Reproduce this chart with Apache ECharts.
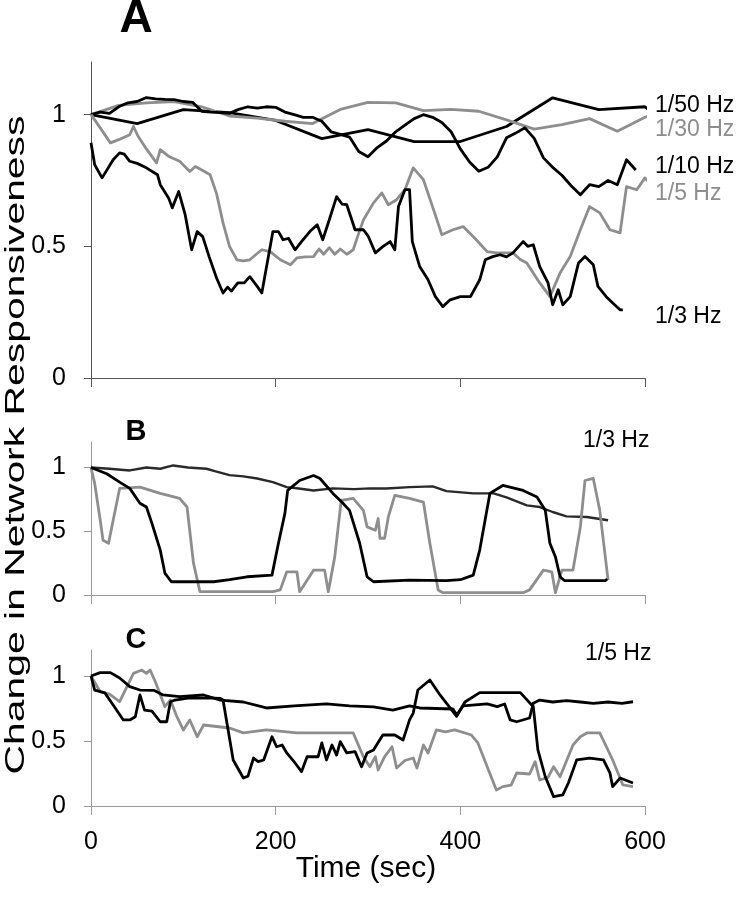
<!DOCTYPE html>
<html>
<head>
<meta charset="utf-8">
<script src="https://cdn.jsdelivr.net/npm/echarts@6/dist/echarts.min.js"></script>
<style>
html,body{margin:0;padding:0;background:#fff;}
#chart{width:737px;height:899px;}
</style>
</head>
<body>
<div id="chart"></div>
<script>
// ---------- data ----------
const X_TICKS = [0, 200, 400, 600];
const Y_TICKS = [0, 0.5, 1];

// Panel A
const A_50 = [[0,1.0],[50,0.966],[100,1.019],[150,1.008],[200,0.978],[250,0.909],[300,0.943],[350,0.898],[400,0.898],[450,0.955],[500,1.064],[550,1.019],[600,1.03],[606,1.013]];
const A_30 = [[0,1.0],[30,1.035],[60,1.045],[90,1.05],[120,1.03],[150,0.995],[180,0.987],[210,0.975],[240,0.966],[270,1.02],[300,1.047],[330,1.045],[360,1.015],[390,1.02],[420,1.013],[450,0.98],[480,0.945],[510,0.962],[540,0.985],[570,0.937],[600,0.99],[607,1.0]];
const A_10 = [[0,1.0],[10,1.01],[20,1.005],[30,1.03],[40,1.045],[50,1.05],[60,1.065],[70,1.06],[80,1.058],[90,1.057],[100,1.05],[110,1.047],[120,1.013],[130,1.01],[140,1.008],[150,1.005],[160,1.02],[170,1.03],[180,1.025],[190,1.03],[200,1.028],[210,1.01],[220,1.0],[230,0.99],[240,0.99],[250,0.975],[260,0.935],[270,0.925],[280,0.915],[290,0.86],[300,0.84],[310,0.875],[320,0.9],[330,0.935],[340,0.96],[350,0.985],[360,1.0],[370,0.99],[380,0.97],[390,0.935],[400,0.87],[410,0.82],[420,0.785],[430,0.8],[440,0.84],[450,0.912],[460,0.93],[470,0.95],[480,0.91],[490,0.836],[500,0.8],[510,0.77],[520,0.73],[530,0.696],[540,0.734],[550,0.727],[560,0.75],[570,0.734],[580,0.829],[590,0.79]];
const A_5 = [[0,1.0],[10,0.95],[21,0.893],[30,0.905],[42,0.924],[46,0.955],[51,0.918],[60,0.87],[71,0.817],[75,0.867],[85,0.84],[96,0.823],[107,0.784],[113,0.803],[120,0.79],[129,0.772],[136,0.7],[143,0.589],[150,0.5],[158,0.449],[165,0.445],[172,0.449],[179,0.47],[185,0.487],[194,0.48],[205,0.449],[216,0.43],[223,0.456],[232,0.46],[241,0.461],[247,0.49],[252,0.47],[258,0.495],[264,0.47],[270,0.49],[277,0.47],[284,0.487],[290,0.55],[295,0.6],[306,0.665],[315,0.703],[322,0.658],[331,0.677],[340,0.715],[349,0.798],[360,0.753],[370,0.65],[380,0.544],[392,0.563],[403,0.575],[416,0.53],[429,0.48],[439,0.475],[457,0.475],[465,0.45],[472,0.437],[486,0.361],[497,0.309],[508,0.399],[519,0.461],[530,0.563],[540,0.651],[551,0.627],[562,0.563],[573,0.551],[580,0.727],[591,0.715],[600,0.76],[609,0.727]];
const A_3 = [[0,0.893],[4,0.81],[12,0.76],[24,0.829],[31,0.855],[36,0.85],[42,0.823],[50,0.815],[60,0.798],[72,0.772],[75,0.734],[84,0.684],[88,0.646],[95,0.708],[102,0.62],[109,0.487],[115,0.556],[121,0.537],[128,0.46],[136,0.38],[143,0.323],[148,0.345],[152,0.33],[159,0.361],[166,0.361],[172,0.385],[180,0.348],[185,0.323],[191,0.44],[197,0.556],[203,0.556],[208,0.525],[214,0.53],[221,0.487],[228,0.518],[237,0.556],[245,0.582],[251,0.525],[258,0.6],[266,0.689],[272,0.66],[277,0.658],[286,0.563],[295,0.563],[300,0.54],[308,0.475],[316,0.499],[324,0.518],[329,0.487],[333,0.651],[340,0.715],[345,0.715],[348,0.518],[356,0.423],[365,0.373],[373,0.309],[381,0.271],[389,0.297],[400,0.309],[411,0.309],[421,0.373],[427,0.449],[435,0.461],[443,0.468],[450,0.46],[457,0.475],[468,0.518],[473,0.5],[479,0.506],[486,0.423],[495,0.361],[500,0.278],[506,0.335],[511,0.278],[519,0.309],[528,0.437],[535,0.461],[544,0.43],[549,0.348],[558,0.309],[565,0.285],[573,0.259],[576,0.259]];

// Panel B (1/3 Hz)
const B_DARK = [[0,1.0],[20,0.99],[42,0.977],[60,1.0],[75,0.99],[89,1.016],[105,1.0],[125,0.99],[135,0.97],[150,0.94],[165,0.93],[180,0.914],[197,0.885],[212,0.846],[225,0.835],[241,0.82],[262,0.836],[285,0.83],[302,0.836],[320,0.835],[345,0.846],[370,0.852],[385,0.815],[414,0.797],[436,0.797],[450,0.766],[472,0.703],[486,0.69],[500,0.651],[515,0.617],[537,0.612],[560,0.586]];
const B_BLACK = [[0,1.0],[17,0.951],[31,0.885],[42,0.836],[53,0.719],[60,0.69],[66,0.562],[75,0.352],[80,0.172],[87,0.104],[133,0.104],[150,0.12],[169,0.143],[196,0.156],[203,0.406],[210,0.64],[213,0.82],[226,0.898],[241,0.937],[248,0.914],[262,0.797],[273,0.719],[280,0.664],[291,0.406],[299,0.143],[306,0.104],[345,0.117],[385,0.112],[400,0.12],[414,0.156],[421,0.352],[432,0.797],[446,0.859],[468,0.82],[483,0.768],[492,0.664],[497,0.406],[503,0.299],[508,0.143],[513,0.112],[557,0.112],[559,0.125]];
const B_GRAY = [[0,1.0],[4,0.875],[10,0.586],[13,0.43],[19,0.406],[24,0.586],[31,0.836],[53,0.846],[75,0.797],[96,0.758],[104,0.69],[111,0.25],[118,0.026],[197,0.026],[205,0.04],[212,0.182],[223,0.182],[226,0.026],[241,0.195],[253,0.195],[257,0.026],[264,0.299],[271,0.742],[284,0.758],[295,0.664],[299,0.534],[308,0.508],[311,0.6],[313,0.445],[318,0.445],[322,0.612],[329,0.781],[345,0.758],[360,0.729],[367,0.406],[376,0.039],[381,0.018],[468,0.018],[475,0.04],[490,0.195],[499,0.182],[503,0.018],[510,0.195],[522,0.195],[530,0.534],[535,0.898],[544,0.914],[551,0.664],[560,0.117]];

// Panel C (1/5 Hz)
const C_FLAT = [[0,1.0],[10,1.026],[21,1.026],[31,0.985],[42,0.918],[53,0.892],[68,0.89],[78,0.854],[96,0.841],[122,0.854],[140,0.815],[165,0.8],[190,0.754],[220,0.77],[255,0.785],[280,0.77],[306,0.762],[327,0.738],[345,0.77],[356,0.754],[392,0.746],[396,0.7],[403,0.77],[429,0.785],[440,0.764],[448,0.785],[454,0.662],[461,0.648],[475,0.677],[479,0.79],[486,0.815],[500,0.8],[515,0.81],[530,0.8],[544,0.79],[560,0.8],[575,0.79],[587,0.802]];
const C_JAG = [[0,1.0],[4,0.892],[15,0.87],[24,0.777],[35,0.662],[42,0.662],[48,0.687],[53,0.854],[58,0.738],[66,0.73],[75,0.648],[82,0.648],[86,0.802],[91,0.815],[105,0.83],[122,0.83],[133,0.83],[140,0.828],[143,0.815],[154,0.354],[165,0.215],[170,0.23],[176,0.369],[181,0.341],[187,0.354],[196,0.533],[201,0.456],[207,0.469],[212,0.408],[221,0.331],[228,0.264],[234,0.379],[246,0.379],[250,0.485],[255,0.354],[261,0.469],[266,0.392],[270,0.495],[277,0.408],[286,0.418],[293,0.302],[299,0.408],[306,0.431],[316,0.546],[329,0.546],[338,0.508],[345,0.662],[349,0.715],[354,0.892],[367,0.969],[378,0.854],[396,0.69],[405,0.8],[421,0.872],[465,0.872],[479,0.764],[484,0.431],[492,0.225],[501,0.072],[511,0.085],[517,0.177],[526,0.354],[540,0.369],[555,0.354],[562,0.254],[565,0.149],[573,0.215],[587,0.177]];
const C_GRAY = [[0,1.0],[10,0.879],[20,0.86],[31,0.802],[39,0.918],[46,1.02],[55,1.046],[60,1.02],[64,1.046],[70,0.95],[80,0.764],[86,0.815],[93,0.687],[100,0.585],[107,0.662],[115,0.533],[122,0.623],[150,0.6],[165,0.562],[190,0.585],[223,0.562],[259,0.562],[284,0.562],[295,0.379],[302,0.302],[308,0.379],[311,0.277],[318,0.38],[326,0.456],[331,0.292],[340,0.35],[349,0.369],[353,0.292],[360,0.469],[365,0.408],[374,0.585],[384,0.57],[394,0.585],[412,0.546],[419,0.485],[439,0.123],[446,0.149],[455,0.16],[461,0.254],[475,0.246],[481,0.341],[486,0.2],[495,0.22],[501,0.302],[508,0.225],[522,0.469],[530,0.533],[537,0.562],[551,0.562],[565,0.354],[576,0.162],[587,0.149]];

const PANEL_LETTERS = ['A', 'B', 'C'];
const A_LABELS = ['1/50 Hz', '1/30 Hz', '1/10 Hz', '1/5 Hz', '1/3 Hz'];
const B_LABEL = '1/3 Hz';
const C_LABEL = '1/5 Hz';
const X_TITLE = 'Time (sec)';
const Y_TITLE = 'Change in Network Responsiveness';

// ---------- styling ----------
const BLACK = '#000000';
const GRAY = '#8e8e8e';
const DARK = '#2a2a2a';
const FONT = '"Liberation Sans", Arial, Helvetica, sans-serif';

const grids = [
  {left: 91, right: 92, top: 62, height: 316},
  {left: 91, right: 92, top: 442, height: 153},
  {left: 91, right: 92, top: 650, height: 156}
];
const axisCols = ['#555', '#999', '#999'];

const xAxes = grids.map((g, i) => ({
  gridIndex: i, type: 'value', min: 0, max: 600, interval: 200,
  axisLine: {show: true, lineStyle: {color: axisCols[i], width: 1}},
  axisTick: {show: true, length: 9, inside: false, lineStyle: {color: axisCols[i]}, customValues: X_TICKS},
  axisLabel: {show: i === 2, customValues: X_TICKS, fontSize: 25, color: '#000', fontFamily: FONT, margin: 24, showMinLabel: true, showMaxLabel: true},
  splitLine: {show: false}
}));
const yAxes = grids.map((g, i) => ({
  gridIndex: i, type: 'value', min: 0, max: 1.2,
  axisLine: {show: true, lineStyle: {color: axisCols[i], width: 1}},
  axisTick: {show: true, length: 7, lineStyle: {color: axisCols[i]}, customValues: Y_TICKS},
  axisLabel: {show: true, customValues: Y_TICKS, fontSize: 25, color: '#000', fontFamily: FONT, margin: 25,
    formatter: v => String(v)},
  splitLine: {show: false}
}));

function line(data, color, idx, width) {
  return {
    type: 'line', data: data, xAxisIndex: idx, yAxisIndex: idx,
    showSymbol: false, symbol: 'none', clip: false, silent: true,
    lineStyle: {color: color, width: width || 2.8, join: 'round'},
    animation: false
  };
}

const series = [
  line(A_50, BLACK, 0), line(A_30, GRAY, 0), line(A_10, BLACK, 0), line(A_5, GRAY, 0), line(A_3, BLACK, 0),
  line(B_DARK, DARK, 1, 2.4), line(B_GRAY, GRAY, 1), line(B_BLACK, BLACK, 1),
  line(C_GRAY, GRAY, 2), line(C_FLAT, BLACK, 2), line(C_JAG, BLACK, 2)
];

function txt(text, x, y, size, color, align, opts) {
  return Object.assign({
    type: 'text', x: x, y: y, silent: true,
    style: {text: text, font: (opts && opts.bold ? 'bold ' : '') + size + 'px ' + FONT, fill: color,
      textAlign: align || 'left', textVerticalAlign: 'middle', align: align || 'left', verticalAlign: 'middle'}
  }, opts && opts.extra ? opts.extra : {});
}

const graphic = [
  txt(PANEL_LETTERS[0], 136, 19, 46, '#000', 'center', {bold: true}),
  txt(PANEL_LETTERS[1], 136, 432, 29, '#000', 'center', {bold: true}),
  txt(PANEL_LETTERS[2], 136, 640, 29, '#000', 'center', {bold: true}),
  txt(A_LABELS[0], 655, 106, 23, BLACK),
  txt(A_LABELS[1], 655, 130, 23, GRAY),
  txt(A_LABELS[2], 655, 167, 23, BLACK),
  txt(A_LABELS[3], 655, 194, 23, GRAY),
  txt(A_LABELS[4], 655, 317, 23, BLACK),
  txt(B_LABEL, 583, 441, 23, BLACK),
  txt(C_LABEL, 585, 654, 23, BLACK),
  txt(X_TITLE, 366, 869, 30, '#000', 'center'),
  txt(Y_TITLE, 16, 445, 28, '#000', 'center', {extra: {rotation: Math.PI / 2, scaleX: 1.46}})
];

const chart = echarts.init(document.getElementById('chart'), null, {renderer: 'canvas'});
chart.setOption({
  backgroundColor: '#fff',
  animation: false,
  grid: grids,
  xAxis: xAxes,
  yAxis: yAxes,
  series: series,
  graphic: graphic
});
</script>
</body>
</html>
